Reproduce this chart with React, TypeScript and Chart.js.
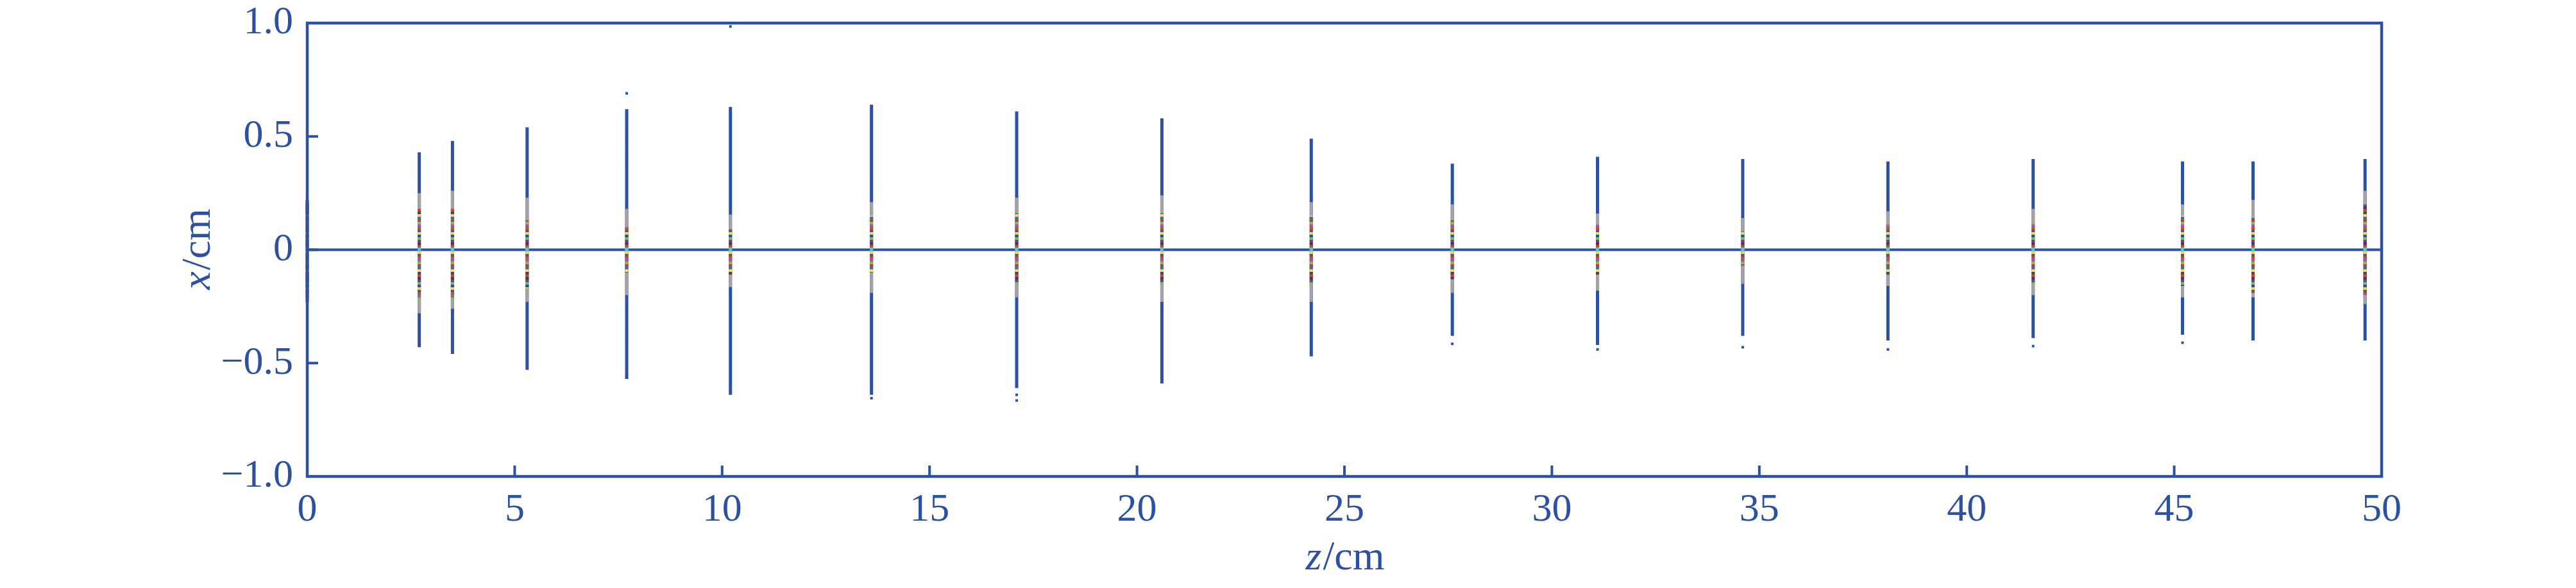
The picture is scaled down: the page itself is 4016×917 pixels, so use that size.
import React, { useEffect, useRef } from 'react';
import { Chart, registerables } from 'chart.js';
Chart.register(...registerables);

// Axial positions (z, cm) of the recorded beam cross-sections
const zPositions = [0, 2.7, 3.5, 5.3, 7.7, 10.2, 13.6, 17.1, 20.6, 24.2, 27.6, 31.1, 34.6, 38.1, 41.6, 45.2, 46.9, 49.6];
// Full transverse extent (x, cm) of each cross-section
const beamTop = [0.22, 0.43, 0.48, 0.54, 0.62, 0.63, 0.64, 0.61, 0.58, 0.49, 0.38, 0.41, 0.4, 0.39, 0.4, 0.39, 0.39, 0.4];
const beamBottom = [-0.23, -0.43, -0.46, -0.53, -0.57, -0.64, -0.64, -0.61, -0.59, -0.47, -0.38, -0.42, -0.38, -0.4, -0.39, -0.375, -0.4, -0.4];
// Grey (intermediate) region
const grayTop = [0.22, 0.25, 0.26, 0.23, 0.18, 0.155, 0.21, 0.23, 0.24, 0.21, 0.2, 0.16, 0.14, 0.17, 0.18, 0.2, 0.22, 0.26];
const grayBottom = [-0.23, -0.28, -0.26, -0.23, -0.2, -0.165, -0.19, -0.21, -0.23, -0.23, -0.19, -0.18, -0.15, -0.16, -0.2, -0.21, -0.21, -0.24];
// Multicoloured core region
const coreTop = [0.21, 0.18, 0.18, 0.13, 0.1, 0.09, 0.15, 0.16, 0.16, 0.15, 0.13, 0.11, 0.08, 0.11, 0.12, 0.15, 0.14, 0.2];
const coreBottom = [-0.22, -0.22, -0.22, -0.17, -0.1, -0.11, -0.1, -0.15, -0.15, -0.15, -0.13, -0.11, -0.07, -0.11, -0.15, -0.16, -0.19, -0.2];
// Isolated stray particles
const strayZ = [7.7, 10.2, 13.6, 17.1, 17.1, 27.6, 31.1, 34.6, 38.1, 41.6, 45.2];
const strayX = [0.69, 0.985, -0.655, -0.64, -0.665, -0.415, -0.44, -0.43, -0.44, -0.425, -0.41];

const xTicks = [0, 5, 10, 15, 20, 25, 30, 35, 40, 45, 50];
const yTicks = [-1, -0.5, 0, 0.5, 1];

const BLUE = '#2c50a2';
const GRAY = '#a3a3a6';
const STRIPES = ['#e3392c', '#3a3d6a', '#7b3b8d', '#6fc046', '#2e4c9a', '#e9dc4c', '#555a66', '#d9414a', '#9b5aa8', '#7cc24a', '#c83a3a', '#3470b4', '#f0e050', '#484848'];
const SERIF = '"Liberation Serif", "DejaVu Serif", serif';
const TICK_SIZE = 62;
const TITLE_SIZE = 64;

function segs(top: number[], bottom: number[]) {
  const out: { x: number; y: number | null }[] = [];
  zPositions.forEach((z, i) => {
    out.push({ x: z, y: bottom[i] });
    out.push({ x: z, y: top[i] });
    out.push({ x: z, y: null });
  });
  return out;
}

let stripeCache: { key: string; g: CanvasGradient } | null = null;
function stripeGradient(chart: any) {
  const area = chart.chartArea;
  if (!area) return BLUE;
  const y0 = chart.scales.y.getPixelForValue(0);
  const key = `${area.top}-${area.bottom}-${y0}`;
  if (stripeCache && stripeCache.key === key) return stripeCache.g;
  const ctx = chart.ctx as CanvasRenderingContext2D;
  const g = ctx.createLinearGradient(0, area.top, 0, area.bottom);
  const H = area.bottom - area.top;
  const stops: [number, number, string][] = [];
  const h = 4;
  stops.push([y0 - 3, y0 + 3, '#4fc9d4']);
  let k = 0;
  for (let d = 3; d < 200; d += h) {
    stops.push([y0 - d - h, y0 - d, STRIPES[k % STRIPES.length]]);
    stops.push([y0 + d, y0 + d + h, STRIPES[(k + 5) % STRIPES.length]]);
    k++;
  }
  stops.sort((a, b) => a[0] - b[0]);
  for (const [a, b, c] of stops) {
    const ta = Math.min(1, Math.max(0, (a - area.top) / H));
    const tb = Math.min(1, Math.max(0, (b - area.top) / H));
    g.addColorStop(ta, c);
    g.addColorStop(tb, c);
  }
  stripeCache = { key, g };
  return g;
}

const framePlugin = {
  id: 'frame',
  afterDraw(chart: any) {
    const { ctx, chartArea: a, scales } = chart;
    ctx.save();
    ctx.strokeStyle = BLUE;
    ctx.lineWidth = 4.5;
    ctx.strokeRect(a.left, a.top, a.right - a.left, a.bottom - a.top);
    ctx.lineWidth = 4;
    ctx.beginPath();
    for (const v of yTicks) {
      const py = scales.y.getPixelForValue(v);
      ctx.moveTo(a.left, py);
      ctx.lineTo(a.left + 17, py);
    }
    for (const v of xTicks) {
      const px = scales.x.getPixelForValue(v);
      ctx.moveTo(px, a.bottom);
      ctx.lineTo(px, a.bottom - 17);
    }
    ctx.stroke();

    // axis titles
    ctx.fillStyle = BLUE;
    ctx.textBaseline = 'alphabetic';
    const drawTitle = (ital: string, rest: string, cx: number, cy: number, rot: number) => {
      ctx.save();
      ctx.translate(cx, cy);
      ctx.rotate(rot);
      ctx.font = `italic ${TITLE_SIZE}px ${SERIF}`;
      const w1 = ctx.measureText(ital).width;
      ctx.font = `${TITLE_SIZE}px ${SERIF}`;
      const w2 = ctx.measureText(rest).width;
      const x0 = -(w1 + w2) / 2;
      ctx.font = `italic ${TITLE_SIZE}px ${SERIF}`;
      ctx.fillText(ital, x0, 20);
      ctx.font = `${TITLE_SIZE}px ${SERIF}`;
      ctx.fillText(rest, x0 + w1 + 2, 20);
      ctx.restore();
    };
    drawTitle('z', '/cm', (a.left + a.right) / 2, 868, 0);
    drawTitle('x', '/cm', 307, (a.top + a.bottom) / 2, -Math.PI / 2);
    ctx.restore();
  },
};

export default function App() {
  const ref = useRef<HTMLCanvasElement>(null);
  useEffect(() => {
    if (!ref.current) return;
    const chart = new Chart(ref.current, {
      type: 'line',
      data: {
        datasets: [
          {
            label: 'axis',
            data: [{ x: 0, y: 0 }, { x: 50, y: 0 }],
            borderColor: BLUE,
            borderWidth: 4,
            pointRadius: 0,
            order: 5,
          },
          {
            label: 'beam',
            data: segs(beamTop, beamBottom),
            borderColor: BLUE,
            borderWidth: 5,
            pointRadius: 0,
            spanGaps: false,
            clip: false,
            order: 4,
          },
          {
            label: 'gray',
            data: segs(grayTop, grayBottom),
            borderColor: GRAY,
            borderWidth: 5,
            pointRadius: 0,
            spanGaps: false,
            clip: false,
            order: 3,
          },
          {
            label: 'core',
            data: segs(coreTop, coreBottom),
            borderColor: (c: any) => stripeGradient(c.chart),
            borderWidth: 5,
            pointRadius: 0,
            spanGaps: false,
            clip: false,
            order: 2,
          },
          {
            label: 'stray',
            data: strayZ.map((z, i) => ({ x: z, y: strayX[i] })),
            showLine: false,
            pointStyle: 'rect',
            pointRadius: 2.8,
            backgroundColor: BLUE,
            borderColor: BLUE,
            borderWidth: 0,
            clip: false,
            order: 1,
          },
        ] as any,
      },
      options: {
        animation: false,
        responsive: false,
        events: [],
        layout: { padding: { top: 36, right: 303, left: 0, bottom: 0 } },
        plugins: { legend: { display: false }, tooltip: { enabled: false } },
        elements: { line: { tension: 0, borderCapStyle: 'butt' } },
        scales: {
          x: {
            type: 'linear',
            min: 0,
            max: 50,
            afterBuildTicks: (s: any) => {
              s.ticks = xTicks.map((v) => ({ value: v }));
            },
            afterFit: (s: any) => {
              s.height = 174;
              s.paddingLeft = 0;
              s.paddingRight = 0;
            },
            grid: { display: false, drawTicks: false },
            border: { display: false },
            ticks: {
              color: BLUE,
              font: { family: SERIF, size: TICK_SIZE },
              padding: 16,
              maxRotation: 0,
              callback: (v: any) => String(v),
            },
          },
          y: {
            type: 'linear',
            min: -1,
            max: 1,
            afterBuildTicks: (s: any) => {
              s.ticks = yTicks.map((v) => ({ value: v }));
            },
            afterFit: (s: any) => {
              s.width = 479;
              s.paddingTop = 0;
              s.paddingBottom = 0;
            },
            grid: { display: false, drawTicks: false },
            border: { display: false },
            ticks: {
              color: BLUE,
              font: { family: SERIF, size: TICK_SIZE },
              padding: 22,
              callback: (v: any) => (v === 0 ? '0' : Number(v).toFixed(1).replace('-', '\u2212')),
            },
          },
        },
      },
      plugins: [framePlugin],
    });
    return () => chart.destroy();
  }, []);
  return (
    <div style={{ position: 'fixed', left: 0, top: 0, width: 4016, height: 917, background: '#fff' }}>
      <canvas ref={ref} width={4016} height={917} style={{ display: 'block' }} />
    </div>
  );
}
